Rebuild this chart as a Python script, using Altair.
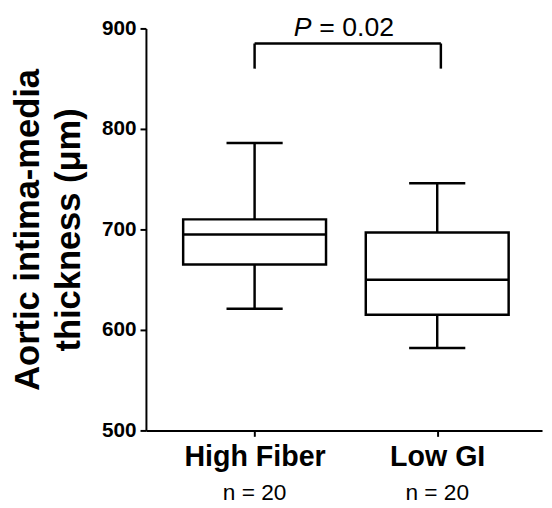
import json
import altair as alt
import pandas as pd

# ---- data ----
groups = ["High Fiber", "Low GI"]
n_counts = [20, 20]
whisker_low = [621, 582]
q1 = [665, 615]
median = [695, 650]
q3 = [710, 697]
whisker_high = [786, 746]

# significance annotation (data units)
p_text = "= 0.02"
bracket_from = [1.0]
bracket_to = [2.02]
bracket_top = [885]
bracket_leg_bottom = [860]
p_label_y = [892]

FONT = "Liberation Sans"
BLACK = "#000000"

df = pd.DataFrame({
    "pos": [i + 1 for i in range(len(groups))],
    "group": groups,
    "lo": whisker_low,
    "q1": q1,
    "med": median,
    "q3": q3,
    "hi": whisker_high,
    "nlabel": [f"n = {n}" for n in n_counts],
})

label_expr = f"{json.dumps(groups)}[datum.value - 1]"

xscale = alt.Scale(domain=[0.432, 2.547], nice=False, zero=False)
yscale = alt.Scale(domain=[500, 900], nice=False, zero=False)

x_axis = alt.Axis(
    values=[1, 2], labelExpr=label_expr, title=None,
    labelFont=FONT, labelFontSize=29, labelFontWeight="bold",
    labelColor=BLACK, labelPadding=7, labelFlush=False,
)
y_axis = alt.Axis(
    values=[500, 600, 700, 800, 900], title=["Aortic intima-media", "thickness (μm)"],
    labelFont=FONT, labelFontSize=21, labelFontWeight="bold", labelColor=BLACK,
    labelPadding=4,
    titleFont=FONT, titleFontSize=35, titleFontWeight="bold", titleColor=BLACK,
    titleLineHeight=42, titlePadding=15,
)

X = alt.X("pos:Q", scale=xscale, axis=x_axis)

base = alt.Chart(df)

whisker = base.mark_rule(color=BLACK, strokeWidth=2.5).encode(
    x=X, y=alt.Y("lo:Q", scale=yscale, axis=y_axis), y2="hi:Q"
)
box = base.mark_bar(fill="white", stroke=BLACK, strokeWidth=2.5, size=145).encode(
    x=X, y=alt.Y("q1:Q", scale=yscale), y2="q3:Q"
)
med = base.mark_tick(color=BLACK, opacity=1, orient="horizontal", size=145, thickness=2.5).encode(
    x=X, y=alt.Y("med:Q", scale=yscale)
)
cap_lo = base.mark_tick(color=BLACK, opacity=1, orient="horizontal", size=57, thickness=2.5).encode(
    x=X, y=alt.Y("lo:Q", scale=yscale)
)
cap_hi = base.mark_tick(color=BLACK, opacity=1, orient="horizontal", size=57, thickness=2.5).encode(
    x=X, y=alt.Y("hi:Q", scale=yscale)
)
nlab = base.mark_text(font=FONT, fontSize=23, color=BLACK, baseline="alphabetic").encode(
    x=X, y=alt.value(479), text="nlabel:N"
)

bdf = pd.DataFrame({"x1": bracket_from, "x2": bracket_to, "y": bracket_top})
legs = pd.DataFrame({
    "x": bracket_from + bracket_to,
    "y": bracket_leg_bottom * 2,
    "y2": bracket_top * 2,
})
pdf = pd.DataFrame({"x": [(bracket_from[0] + 2.0) / 2], "y": p_label_y})

bracket_h = alt.Chart(bdf).mark_rule(color=BLACK, strokeWidth=2.5).encode(
    x=alt.X("x1:Q", scale=xscale), x2="x2:Q", y=alt.Y("y:Q", scale=yscale)
)
bracket_v = alt.Chart(legs).mark_rule(color=BLACK, strokeWidth=2.5).encode(
    x=alt.X("x:Q", scale=xscale), y=alt.Y("y:Q", scale=yscale), y2="y2:Q"
)
p_italic = alt.Chart(pdf).mark_text(
    font=FONT, fontSize=27, fontStyle="italic", color=BLACK,
    align="left", baseline="alphabetic", dx=-53,
).encode(x=alt.X("x:Q", scale=xscale), y=alt.Y("y:Q", scale=yscale), text=alt.value("P"))
p_rest = alt.Chart(pdf).mark_text(
    font=FONT, fontSize=27, color=BLACK,
    align="left", baseline="alphabetic", dx=-27,
).encode(x=alt.X("x:Q", scale=xscale), y=alt.Y("y:Q", scale=yscale), text=alt.value(p_text))

chart = alt.layer(
    whisker, box, med, cap_lo, cap_hi, nlab, bracket_h, bracket_v, p_italic, p_rest
).properties(
    width=402, height=408,
    autosize=alt.AutoSizeParams(type="none"),
    padding={"left": 140, "top": 17, "right": 2, "bottom": 75},
    background="white",
).configure_view(stroke=None).configure_axis(
    grid=False, domainColor=BLACK, domainWidth=2, tickColor=BLACK, tickWidth=2, tickSize=6,
)

chart.save("out.html", embed_options={"renderer": "svg", "actions": False})
